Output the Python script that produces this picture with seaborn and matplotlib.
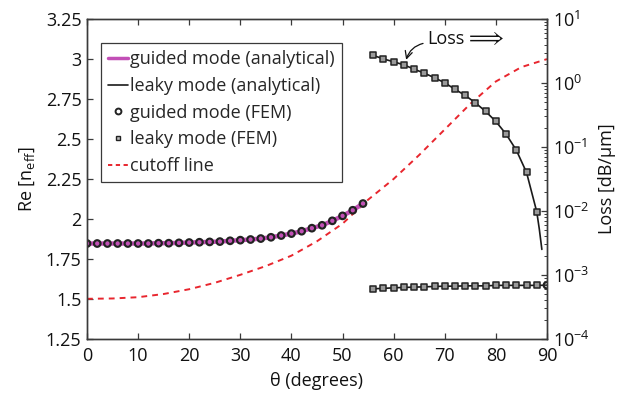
import numpy as np
import pandas as pd
import matplotlib
matplotlib.use("Agg")
import matplotlib.pyplot as plt
import seaborn as sns
from matplotlib.lines import Line2D

# ---------------- data ----------------
guided_theta = [0, 2, 4, 6, 8, 10, 12, 14, 16, 18, 20, 22, 24, 26, 28, 30, 32, 34,
                36, 38, 40, 42, 44, 46, 48, 50, 52, 54]
guided_neff = [1.846, 1.846, 1.846, 1.846, 1.846, 1.846, 1.846, 1.848, 1.848, 1.850,
               1.852, 1.854, 1.856, 1.858, 1.863, 1.867, 1.871, 1.877, 1.885, 1.896,
               1.908, 1.923, 1.942, 1.960, 1.988, 2.019, 2.054, 2.096]

guided_fem_theta = guided_theta + [90]
guided_fem_neff = guided_neff + [1.585]

leaky_theta = [56, 58, 60, 62, 64, 66, 68, 70, 72, 74, 76, 78, 80, 82, 84, 86, 88]
leaky_neff = [1.563, 1.565, 1.569, 1.571, 1.573, 1.575, 1.577, 1.579, 1.579, 1.581,
              1.581, 1.581, 1.584, 1.584, 1.584, 1.584, 1.584]
leaky_line_theta = [55.6] + leaky_theta + [90]
leaky_line_neff = [1.562] + leaky_neff + [1.585]

leaky_loss = [2.71, 2.39, 2.15, 1.93, 1.65, 1.43, 1.21, 1.01, 0.80, 0.641, 0.491,
              0.360, 0.251, 0.159, 0.0893, 0.040, 0.0097]
loss_line_theta = [55.6] + leaky_theta + [88.5, 89.0]
loss_line_vals = [2.80] + leaky_loss + [0.0052, 0.0025]

cutoff_theta = [0, 5, 10, 15, 20, 25, 30, 35, 40, 45, 50, 55, 60, 65, 70, 75, 80, 85, 90]
cutoff_neff = [1.500, 1.502, 1.510, 1.530, 1.560, 1.600, 1.650, 1.705, 1.770, 1.860,
               1.970, 2.120, 2.250, 2.400, 2.560, 2.720, 2.860, 2.950, 3.000]

x_ticks = [0, 10, 20, 30, 40, 50, 60, 70, 80, 90]
y_ticks = [1.25, 1.5, 1.75, 2, 2.25, 2.5, 2.75, 3, 3.25]
y_ticklabels = ["1.25", "1.5", "1.75", "2", "2.25", "2.5", "2.75", "3", "3.25"]

# ---------------- style ----------------
sns.set_style("white")
plt.rcParams['font.family'] = ['Open Sans', 'DejaVu Sans']
plt.rcParams['mathtext.fontset'] = 'custom'
plt.rcParams['mathtext.rm'] = 'Open Sans'
plt.rcParams['mathtext.it'] = 'Open Sans:italic'
FS = 13
MAG = '#c24fb6'
RED = '#e8262e'
EDGE = '#3a3a3a'

fig = plt.figure(figsize=(6.17, 3.99), dpi=100)
ax = fig.add_axes([0.141, 0.151, 0.7455, 0.801])
ax2 = ax.twinx()

# guided analytical (magenta thick)
sns.lineplot(x=guided_theta, y=guided_neff, ax=ax, color=MAG, lw=3.2,
             sort=False, estimator=None, zorder=3)
# cutoff line
sns.lineplot(x=cutoff_theta, y=cutoff_neff, ax=ax, color=RED, lw=1.4,
             sort=False, estimator=None, zorder=2, dashes=False)
ax.lines[-1].set_dashes([3, 2.6])
# leaky analytical Re(neff)
sns.lineplot(x=leaky_line_theta, y=leaky_line_neff, ax=ax, color='#1a1a1a', lw=1.2,
             sort=False, estimator=None, zorder=3)
# FEM points
sns.scatterplot(x=guided_fem_theta, y=guided_fem_neff, ax=ax, marker='o', s=22,
                facecolor='none', edgecolor='#222222', linewidth=1.6, zorder=4)
sns.scatterplot(x=leaky_theta, y=leaky_neff, ax=ax, marker='s', s=13,
                facecolor='#9a9a9a', edgecolor='#222222', linewidth=1.1, zorder=4)

# Loss on right log axis
sns.lineplot(x=loss_line_theta, y=loss_line_vals, ax=ax2, color='#1a1a1a', lw=1.2,
             sort=False, estimator=None, zorder=3)
sns.scatterplot(x=leaky_theta, y=leaky_loss, ax=ax2, marker='s', s=13,
                facecolor='#9a9a9a', edgecolor='#222222', linewidth=1.1, zorder=4)

# axes limits/ticks
ax.set_xlim(0, 90)
ax.set_ylim(1.25, 3.25)
ax.set_xticks(x_ticks)
ax.set_yticks(y_ticks)
ax.set_yticklabels(y_ticklabels)
ax2.set_yscale('log')
ax2.set_ylim(1e-4, 10)
ax2.set_xlim(0, 90)

for a in (ax, ax2):
    for sp in a.spines.values():
        sp.set_color(EDGE)
        sp.set_linewidth(1.0)
ax.tick_params(axis='both', which='both', direction='in', labelsize=FS, colors=EDGE,
               labelcolor='#111111', length=4, width=0.9, top=True, bottom=True,
               left=True, right=False, pad=4)
ax.tick_params(axis='x', pad=6)
ax2.tick_params(axis='y', which='major', direction='in', labelsize=FS, colors=EDGE,
                labelcolor='#111111', length=4, width=0.9, pad=4)
ax2.tick_params(axis='y', which='minor', direction='in', colors=EDGE, length=2.2, width=0.7)

ax.set_xlabel('θ (degrees)', fontsize=FS, color='#111111', labelpad=5)
ax.set_ylabel(r'Re [n$_{\mathrm{eff}}$]', fontsize=FS, color='#111111', labelpad=6)
ax2.set_ylabel('Loss [dB/μm]', fontsize=FS, color='#111111', labelpad=6)

# annotation
ax2.annotate('Loss', xy=(62.3, 2.1), xytext=(70.3, 4.9), ha='center', va='center',
             fontsize=FS, color='#111111',
             arrowprops=dict(arrowstyle='->', color='#111111', lw=0.9,
                             connectionstyle='arc3,rad=0.35', relpos=(0.0, 0.3),
                             shrinkA=1, shrinkB=2))
ax2.text(77.9, 4.9, r'$\Longrightarrow$', ha='center', va='center', fontsize=16,
         color='#111111')

# legend
handles = [
    Line2D([], [], color=MAG, lw=2.5),
    Line2D([], [], color='#1a1a1a', lw=1.2),
    Line2D([], [], ls='none', marker='o', markersize=4.2, markerfacecolor='none',
           markeredgecolor='#222222', markeredgewidth=1.4),
    Line2D([], [], ls='none', marker='s', markersize=3.4, markerfacecolor='#bbbbbb',
           markeredgecolor='#222222', markeredgewidth=1.0),
    Line2D([], [], color=RED, lw=1.4, dashes=[2.2, 1.8]),
]
labels = ['guided mode (analytical)', 'leaky mode (analytical)', 'guided mode (FEM)',
          'leaky mode (FEM)', 'cutoff line']
leg = ax2.legend(handles, labels, loc='upper left', bbox_to_anchor=(0.030, 0.925),
                 fontsize=FS, frameon=True, fancybox=False, edgecolor=EDGE,
                 framealpha=1, handlelength=1.1, handletextpad=0.12,
                 labelspacing=0.48, borderpad=0.4, borderaxespad=0.0)
leg.get_frame().set_linewidth(0.9)

fig.savefig('out.png', dpi=100)
